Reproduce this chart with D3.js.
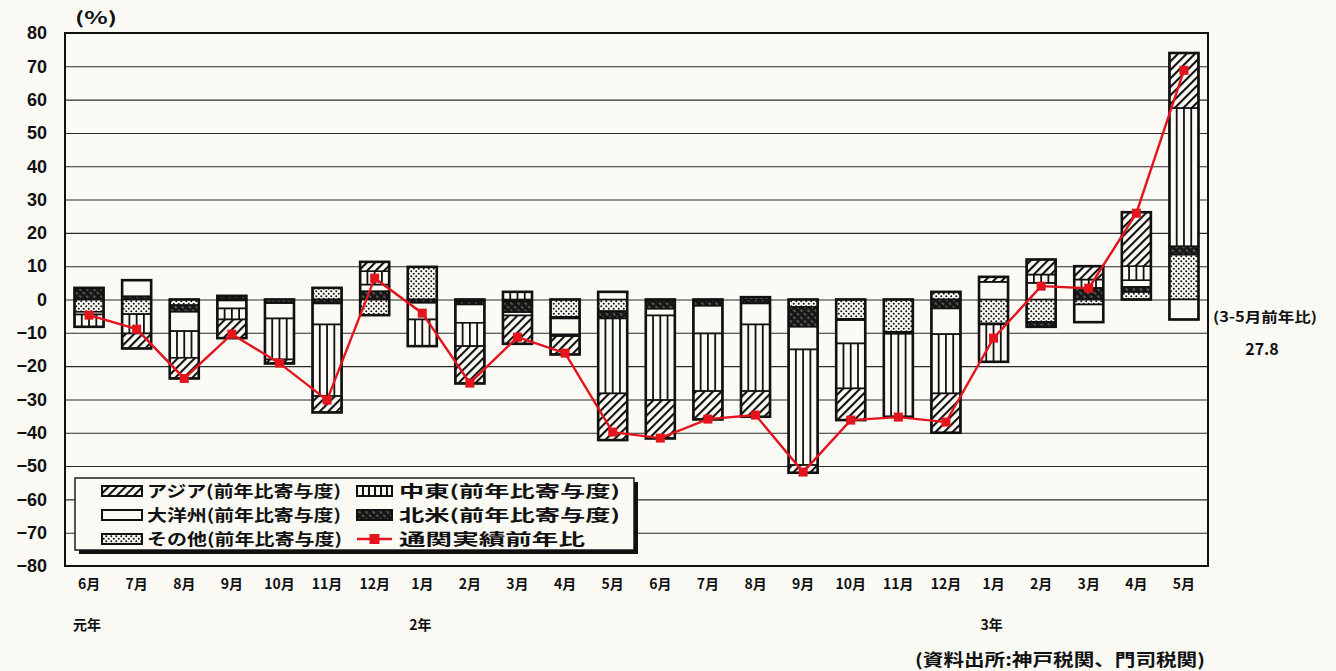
<!DOCTYPE html>
<html><head><meta charset="utf-8">
<script src="https://cdn.jsdelivr.net/npm/d3@7"></script>
<style>
html,body{margin:0;padding:0;background:#fbfaf5;}
svg{display:block;}
text{font-family:"Liberation Sans Narrow","Noto Sans CJK JP",sans-serif;font-weight:700;fill:#111;}
.jp{font-family:"Noto Sans CJK JP",sans-serif;}
</style></head><body>
<svg id="c" width="1336" height="671"></svg>
<script>
// ---- data ----
const months = ["6月","7月","8月","9月","10月","11月","12月","1月","2月","3月","4月","5月",
                "6月","7月","8月","9月","10月","11月","12月","1月","2月","3月","4月","5月"];
const yearIdx  = [0, 7, 19];
const yearText = ["元年", "2年", "3年"];
// contributions (percentage points)
const sonota   = [-3.7,-4.4,-1.7,-0.3,-0.8, 3.5,-4.7, 9.8,-0.5,-0.5,-5.2,-3.5,-0.3,-0.3, 0.7,-2.2,-5.8,-9.7, 2.3,-7.2,-6.7,-1.5, 2.3,13.5];
const hokubei  = [ 3.5, 1.0,-2.0, 1.1,-0.3,-1.2, 2.5,-1.0,-1.0,-3.3,-0.5,-2.2,-2.5,-1.6,-1.2,-6.0,-0.4,-0.3,-2.7,-0.3,-1.5, 3.5, 1.5, 2.5];
const taiyoshu = [-0.8, 4.8,-5.8,-2.4,-4.6,-6.3, 2.0,-5.0,-5.5,-1.0,-4.8, 2.3,-2.0,-8.3,-6.3,-6.8,-7.0,-0.3,-7.7, 5.3, 5.0,-5.3, 2.0,-6.0];
const chuto    = [-3.7,-5.8,-8.0,-3.3,-12.3,-21.5,4.0,-8.0,-7.0, 2.3,-0.5,-22.5,-25.4,-17.3,-20.0,-34.7,-13.5,-24.9,-17.8,-11.2,2.5, 2.5, 4.2,41.5];
const asia     = [ 0.0,-4.5,-6.2,-5.6,-1.2,-4.9, 2.8, 0.0,-11.2,-8.5,-5.5,-14.0,-11.5,-8.5,-7.7,-2.3,-9.5, 0.0,-11.8, 1.5, 4.5, 4.0,16.2,16.5];
const total    = [-4.7,-8.9,-23.7,-10.4,-19.1,-30.2,6.4,-4.1,-25.1,-11.3,-16.1,-39.8,-41.6,-35.9,-34.7,-51.8,-36.2,-35.3,-36.8,-11.6,4.0, 3.4,25.9,68.8];
const yTicks = [80,70,60,50,40,30,20,10,0,-10,-20,-30,-40,-50,-60,-70,-80];
const seriesKeys  = ["sonota","hokubei","taiyoshu","chuto","asia"];
const legendText  = ["アジア(前年比寄与度)","中東(前年比寄与度)","大洋州(前年比寄与度)","北米(前年比寄与度)","その他(前年比寄与度)","通関実績前年比"];

const rows = months.map((m,i)=>({i, sonota:sonota[i], hokubei:hokubei[i], taiyoshu:taiyoshu[i], chuto:chuto[i], asia:asia[i]}));

// ---- layout ----
const BG = "#fbfaf5", INK = "#111", RED = "#e3141c";
const L = 65, R = 1208, T = 33, B = 566;
const svg = d3.select("#c");
svg.append("rect").attr("width",1336).attr("height",671).attr("fill",BG);

const x = d3.scaleBand().domain(d3.range(months.length)).range([L,R]).paddingInner(0.39).paddingOuter(0.2);
const y = d3.scaleLinear().domain([-80,80]).range([B,T]);
const bw = x.bandwidth();

// patterns
const defs = svg.append("defs");
const ph = defs.append("pattern").attr("id","pHatch").attr("patternUnits","userSpaceOnUse")
  .attr("width",6).attr("height",6).attr("patternTransform","rotate(45)");
ph.append("rect").attr("width",6).attr("height",6).attr("fill",BG);
ph.append("line").attr("x1",1).attr("x2",1).attr("y1",0).attr("y2",6).attr("stroke",INK).attr("stroke-width",2.2);

const pd = defs.append("pattern").attr("id","pDark").attr("patternUnits","userSpaceOnUse")
  .attr("width",5).attr("height",5).attr("patternTransform","rotate(-45)");
pd.append("rect").attr("width",5).attr("height",5).attr("fill","#161616");
pd.append("line").attr("x1",2).attr("x2",2).attr("y1",0).attr("y2",3).attr("stroke","#8f8f86").attr("stroke-width",1);

const po = defs.append("pattern").attr("id","pDots").attr("patternUnits","userSpaceOnUse")
  .attr("width",5).attr("height",5);
po.append("rect").attr("width",5).attr("height",5).attr("fill",BG);
po.append("circle").attr("cx",1.25).attr("cy",1.25).attr("r",1.0).attr("fill",INK);
po.append("circle").attr("cx",3.75).attr("cy",3.75).attr("r",1.0).attr("fill",INK);

const pv = defs.append("pattern").attr("id","pVert").attr("patternUnits","userSpaceOnUse")
  .attr("width",6).attr("height",6);
pv.append("rect").attr("width",6).attr("height",6).attr("fill",BG);
pv.append("line").attr("x1",3).attr("x2",3).attr("y1",0).attr("y2",6).attr("stroke",INK).attr("stroke-width",2);

const fillOf = {sonota:"url(#pDots)", hokubei:"url(#pDark)", taiyoshu:BG, chuto:BG, asia:"url(#pHatch)"};

// grid
svg.append("g").attr("transform",`translate(${L},0)`)
  .call(d3.axisLeft(y).tickValues(yTicks).tickSize(-(R-L)).tickFormat(""))
  .call(g=>g.select(".domain").remove())
  .call(g=>g.selectAll("line").attr("stroke","#2a2a2a").attr("stroke-width",1.1));

// y labels
svg.append("g").attr("transform",`translate(${L},0)`)
  .call(d3.axisLeft(y).tickValues(yTicks).tickSize(0).tickPadding(18).tickFormat(d3.format("d")))
  .call(g=>g.select(".domain").remove())
  .call(g=>g.selectAll("text").attr("font-size",18).attr("fill",INK)
     .style("font-family",'"Liberation Sans Narrow","Liberation Sans",sans-serif').style("font-weight",700));

// x labels
svg.append("g").attr("transform",`translate(0,${B})`)
  .call(d3.axisBottom(x).tickSize(0).tickPadding(13).tickFormat(i=>months[i]))
  .call(g=>g.select(".domain").remove())
  .call(g=>g.selectAll("text").attr("font-size",14).attr("fill",INK));

// year labels
svg.append("g").selectAll("text").data(yearIdx).join("text")
  .attr("x",i=>x(i)+bw/2-2).attr("y",630).attr("text-anchor","middle").attr("font-size",14)
  .text((d,k)=>yearText[k]);

// bars
const stack = d3.stack().keys(seriesKeys).offset(d3.stackOffsetDiverging)(rows);
const gBars = svg.append("g");
stack.forEach(layer=>{
  const key = layer.key;
  const g = gBars.append("g");
  g.selectAll("rect").data(layer.filter(d=>d[1]!==d[0])).join("rect")
    .attr("x",d=>x(d.data.i)).attr("width",bw)
    .attr("y",d=>y(Math.max(d[0],d[1]))).attr("height",d=>Math.abs(y(d[0])-y(d[1])))
    .attr("fill",fillOf[key]).attr("stroke",INK).attr("stroke-width",1.6);
  if(key==="chuto"){
    layer.filter(d=>d[1]!==d[0]).forEach(d=>{
      [0.25,0.5,0.75].forEach(f=>{
        g.append("line").attr("x1",x(d.data.i)+bw*f).attr("x2",x(d.data.i)+bw*f)
          .attr("y1",y(d[0])).attr("y2",y(d[1])).attr("stroke",INK).attr("stroke-width",1.8);
      });
    });
  }
});
// outer outline per bar
gBars.append("g").selectAll("rect").data(rows).join("rect")
  .attr("x",d=>x(d.i)).attr("width",bw)
  .attr("y",d=>y(d3.max(stack,l=>Math.max(l[d.i][0],l[d.i][1]))))
  .attr("height",d=>{
     const top = d3.max(stack,l=>Math.max(l[d.i][0],l[d.i][1]));
     const bot = d3.min(stack,l=>Math.min(l[d.i][0],l[d.i][1]));
     return y(bot)-y(top);})
  .attr("fill","none").attr("stroke",INK).attr("stroke-width",2.6);

// frame
svg.append("rect").attr("x",L).attr("y",T).attr("width",R-L).attr("height",B-T)
  .attr("fill","none").attr("stroke",INK).attr("stroke-width",2);

// line
const line = d3.line().x((d,i)=>x(i)+bw/2).y(d=>y(d));
svg.append("path").datum(total).attr("d",line).attr("fill","none").attr("stroke",RED).attr("stroke-width",2.4);
svg.append("g").selectAll("rect").data(total).join("rect")
  .attr("x",(d,i)=>x(i)+bw/2-4.5).attr("y",d=>y(d)-4.5).attr("width",9).attr("height",9).attr("fill",RED);

// legend
const lg = svg.append("g");
lg.append("rect").attr("x",79).attr("y",482).attr("width",559).attr("height",72).attr("fill",INK);
lg.append("rect").attr("x",75).attr("y",478).attr("width",559).attr("height",72).attr("fill",BG).attr("stroke",INK).attr("stroke-width",1.4);
const legFill = ["url(#pHatch)","url(#pVert)",BG,"url(#pDark)","url(#pDots)",null];
const legX = [102, 357], legIW = [40, 35], legTX = [147, 399], legY = [491, 515, 539];
const legW = [194, 221, 194, 221, 195, 186];
legendText.forEach((t,k)=>{
  const cx = legX[k%2], iw = legIW[k%2], tx = legTX[k%2], cy = legY[Math.floor(k/2)];
  if(legFill[k]){
    lg.append("rect").attr("x",cx).attr("y",cy-5).attr("width",iw).attr("height",10)
      .attr("fill",legFill[k]).attr("stroke",INK).attr("stroke-width",2);
  } else {
    lg.append("line").attr("x1",cx).attr("x2",cx+iw).attr("y1",cy).attr("y2",cy).attr("stroke",RED).attr("stroke-width",2.4);
    lg.append("rect").attr("x",cx+iw/2-5).attr("y",cy-5).attr("width",10).attr("height",10).attr("fill",RED);
  }
  lg.append("text").attr("class","jp").attr("x",tx).attr("y",cy).attr("dy","0.36em")
    .attr("font-size",16).attr("textLength",legW[k]).attr("lengthAdjust","spacingAndGlyphs").text(t);
});

// texts
svg.append("text").attr("x",75).attr("y",24).attr("font-size",17).attr("textLength",42).attr("lengthAdjust","spacingAndGlyphs").text("(%)");
svg.append("text").attr("x",1213).attr("y",322).attr("font-size",14).attr("textLength",104).attr("lengthAdjust","spacingAndGlyphs").text("(3-5月前年比)");
svg.append("text").attr("x",1262).attr("y",355).attr("text-anchor","middle").attr("font-size",16).text("27.8");
svg.append("text").attr("class","jp").attr("x",915).attr("y",666).attr("font-size",17)
  .attr("textLength",290).attr("lengthAdjust","spacingAndGlyphs").text("(資料出所:神戸税関、門司税関)");
</script>
</body></html>
